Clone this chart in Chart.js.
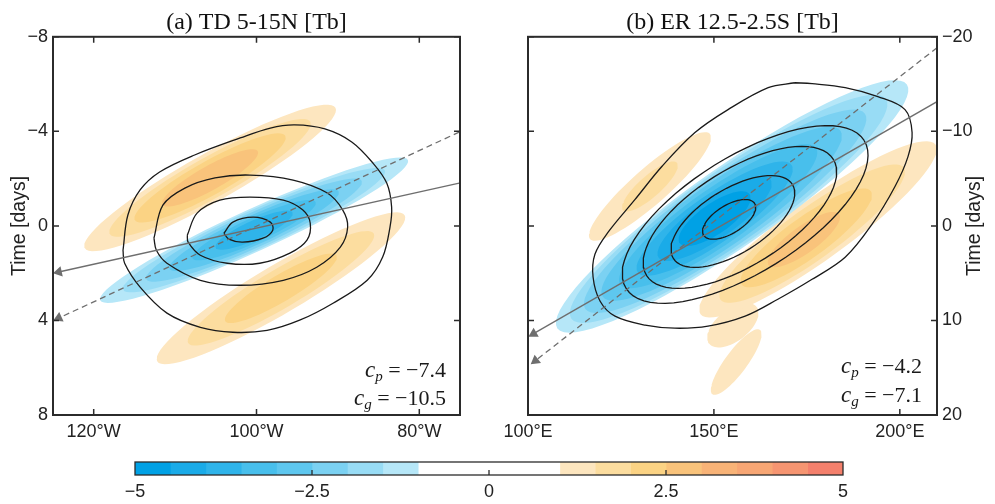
<!DOCTYPE html>
<html>
<head>
<meta charset="utf-8">
<script src="https://cdn.jsdelivr.net/npm/chart.js@4.4.1/dist/chart.umd.min.js"></script>
<style>
  body { margin: 0; background: #fff; width: 995px; height: 504px; position: relative; overflow: hidden; }
  canvas { position: absolute; }
</style>
</head>
<body>
<canvas id="chartA" width="495" height="440" style="left:0;top:0"></canvas>
<canvas id="chartB" width="500" height="440" style="left:495px;top:0"></canvas>
<canvas id="colorbar" width="995" height="59" style="left:0;top:445px"></canvas>
<script>
// colour scale (bin edges and colours)
const cbEdges = [-5, -4.5, -4, -3.5, -3, -2.5, -2, -1.5, -1, 1, 1.5, 2, 2.5, 3, 3.5, 4, 4.5, 5];
const cbColors = ['#00a1e5', '#1aabe8', '#2fb4ea', '#48bfec', '#5ec7ef', '#7bd1f2', '#98dcf5', '#b6e7f8', '#ffffff',
  '#fde6bf', '#fcdd9f', '#fbd384', '#f9c37b', '#f8b377', '#f7a674', '#f69571', '#f4806c'];
const cbTicks = [-5, -2.5, 0, 2.5, 5];

// panel (a) TD 5-15N
const tdTitle = '(a) TD 5-15N [Tb]';
const tdLonTicks = [-120, -100, -80];
const tdDayTicks = [-8, -4, 0, 4, 8];
const tdSpeeds = ['\u22127.4', '\u221210.5'];
// shaded Tb anomalies: centre, long and short half-axes (lon, day), contour levels
const tdBlobs = [
  { lon: -105.7, day: -2.03, u: [15.4, -2.97], v: [1.44, 0.89], levels: [1, 1.5, 2, 2.5], lens: [1, 0.8, 0.6, 0.38], wids: [1, 0.85, 0.7, 0.5] },
  { lon: -97.0, day: 2.64, u: [15.2, -3.09], v: [1.5, 0.88], levels: [1, 1.5, 2], lens: [1, 0.75, 0.45], wids: [1, 0.8, 0.55] },
  { lon: -100.3, day: 0.18, u: [18.9, -2.97], v: [1.07, 0.81], levels: [-1, -1.5, -2, -2.5, -3, -3.5], lens: [1, 0.85, 0.7, 0.55, 0.4, 0.25], wids: [1, 0.92, 0.82, 0.7, 0.58, 0.45] }
];
// black contours [lon, day]
const tdRing1 = [[-104.0, 0.31], [-102.9, -0.16], [-100.4, -0.37], [-98.3, -0.16], [-98.0, 0.18], [-99.2, 0.52], [-101.7, 0.69], [-103.4, 0.56], [-104.0, 0.31]];
const tdRing2 = [[-108.5, 0.39], [-107.3, -0.54], [-104.5, -1.09], [-100.8, -1.22], [-96.7, -1.09], [-94.3, -0.67], [-93.4, -0.12], [-93.8, 0.60], [-95.9, 1.15], [-99.6, 1.58], [-103.6, 1.58], [-106.9, 1.24], [-108.4, 0.69], [-108.5, 0.39]];
const tdRing3 = [[-112.6, 0.52], [-111.5, -0.88], [-108.8, -1.60], [-105.1, -2.03], [-100.8, -2.15], [-95.5, -1.94], [-91.3, -1.39], [-89.4, -0.67], [-88.8, 0.05], [-89.7, 0.90], [-92.6, 1.75], [-96.7, 2.30], [-102.0, 2.51], [-106.9, 2.30], [-111.0, 1.58], [-112.3, 1.03], [-112.6, 0.52]];
const tdRing4 = [[-116.4, 1.03], [-115.8, -0.46], [-114.3, -1.52], [-111.9, -2.28], [-107.6, -3.0], [-102.0, -3.72], [-98.3, -4.14], [-95.3, -4.27], [-91.6, -4.10], [-88.3, -3.55], [-85.7, -2.66], [-84.0, -1.81], [-83.4, -0.80], [-83.6, 0.05], [-84.5, 1.32], [-86.4, 2.30], [-90.6, 3.27], [-94.7, 3.99], [-98.7, 4.42], [-102.9, 4.50], [-106.9, 4.29], [-111.0, 3.69], [-114.3, 2.59], [-116.2, 1.58], [-116.4, 1.03]];
const tdPhase = [[-75.1, -1.81], [-124.3, 1.95]];
const tdGroup = [[-75.1, -3.97], [-124.3, 3.9]];

// panel (b) ER 12.5-2.5S
const erTitle = '(b) ER 12.5-2.5S [Tb]';
const erLonTicks = [100, 150, 200];
const erDayTicks = [-20, -10, 0, 10, 20];
const erSpeeds = ['\u22124.2', '\u22127.1'];
const erBlobs = [
  { lon: 132.8, day: -4.17, u: [16.1, -5.57], v: [3.2, 1.42], levels: [1, 1.5], lens: [1, 0.45], wids: [1, 0.6] },
  { lon: 155.1, day: 10.5, u: [6.46, -1.90], v: [2.4, 1.4], levels: [1], lens: [1], wids: [1] },
  { lon: 156.0, day: 14.4, u: [6.4, -3.4], v: [2.37, 0.70], levels: [1], lens: [1], wids: [1] },
  { lon: 178.0, day: 0.37, u: [31.6, -8.97], v: [4.73, 2.56], levels: [1, 1.5, 2, 2.5], lens: [1, 0.78, 0.55, 0.3], wids: [1, 0.85, 0.68, 0.45], shifts: [0, -0.05, -0.1, -0.12] },
  { lon: 154.9, day: -2.06, u: [47.0, -12.9], v: [6.18, 3.46], levels: [-1, -1.5, -2, -2.5, -3, -3.5, -4, -4.5], lens: [1, 0.9, 0.8, 0.68, 0.56, 0.44, 0.32, 0.2], wids: [1, 0.95, 0.88, 0.8, 0.7, 0.6, 0.5, 0.38], shifts: [0, -0.02, -0.04, -0.06, -0.08, -0.1, -0.1, -0.1] }
];
const erRing1 = { lon: 154.1, day: -0.69, u: [6.86, -1.68], v: [1.99, 1.26] };
const erRing2 = { lon: 155.1, day: -0.47, u: [16.0, -3.92], v: [4.57, 2.87] };
const erRing3 = { lon: 157.0, day: -0.90, u: [25.1, -6.15], v: [6.84, 4.31] };
const erRing4 = { lon: 158.4, day: -1.21, u: [32.0, -7.83], v: [8.27, 5.2] };
const erRing5 = [[171.8, -15.14], [164.6, -14.62], [153.8, -12.30], [144.9, -9.87], [136.0, -6.28], [128.8, -2.80], [121.5, 0.69], [118.0, 3.0], [117.5, 5.4], [119.4, 7.97], [123.4, 9.55], [131.5, 10.5], [139.5, 10.82], [148.4, 10.61], [158.4, 9.55], [167.2, 7.76], [176.4, 5.65], [185.3, 3.32], [192.5, -0.16], [198.7, -4.17], [202.2, -7.33], [203.3, -9.87], [201.4, -12.30], [194.1, -13.67], [185.3, -14.62], [176.4, -15.04], [171.8, -15.14]];
const erPhase = [[210, -13.14], [101.5, 11.4]];
const erGroup = [[210, -18.84], [102, 14.25]];

const ink = '#1a1a1a';
const tickFont = { family: 'Liberation Sans', size: 18 };

function shadeColor(level) {
  for (let i = 0; i < cbColors.length; i++) {
    if (level > 0 && cbEdges[i] === level) return cbColors[i];
    if (level < 0 && cbEdges[i + 1] === level) return cbColors[i];
  }
  return '#fff';
}

function ellipsePts(e, len, wid, shift) {
  const pts = [];
  for (let k = 0; k <= 72; k++) {
    const t = 2 * Math.PI * k / 72;
    const a = Math.cos(t) * len + shift, b = Math.sin(t) * wid;
    pts.push({ x: e.lon + a * e.u[0] + b * e.v[0], y: e.day + a * e.u[1] + b * e.v[1] });
  }
  return pts;
}

function arrowRotation(ctx) {
  const ch = ctx.chart, d = ctx.dataset.data;
  if (!ch.scales.x || !d[1]) return 0;
  const dx = ch.scales.x.getPixelForValue(d[1].x) - ch.scales.x.getPixelForValue(d[0].x);
  const dy = ch.scales.y.getPixelForValue(d[1].y) - ch.scales.y.getPixelForValue(d[0].y);
  return Math.atan2(dx, -dy) * 180 / Math.PI;
}

function buildDatasets(blobs, rings, arrows) {
  const sets = [];
  blobs.forEach(b => {
    b.levels.forEach((lv, i) => {
      sets.push({
        data: ellipsePts(b, b.lens[i], b.wids[i], b.shifts ? b.shifts[i] : 0),
        showLine: true, fill: 'shape', backgroundColor: shadeColor(lv),
        borderWidth: 0, pointRadius: 0, tension: 0
      });
    });
  });
  rings.forEach(r => {
    const pts = Array.isArray(r) ? r.map(p => ({ x: p[0], y: p[1] })) : ellipsePts(r, 1, 1, 0);
    sets.push({
      data: pts, showLine: true, fill: false, borderColor: ink, borderWidth: 1.3,
      pointRadius: 0, tension: Array.isArray(r) ? 0.35 : 0
    });
  });
  arrows.forEach((a, i) => {
    sets.push({
      data: a.map(p => ({ x: p[0], y: p[1] })), showLine: true, fill: false,
      borderColor: '#6e6e6e', borderWidth: 1.3, borderDash: i === 1 ? [6, 4] : [],
      pointRadius: [0, 6], pointStyle: 'triangle', pointRotation: arrowRotation,
      pointBackgroundColor: '#6e6e6e', pointBorderWidth: 0
    });
  });
  // first dataset is drawn on top, so reverse
  return sets.reverse();
}

function drawSpeed(ctx, right, base, sub, val) {
  const main = '22px "Liberation Serif"', ital = 'italic 23px "Liberation Serif"', small = 'italic 15px "Liberation Serif"';
  const rest = ' = ' + val;
  ctx.font = main; const w3 = ctx.measureText(rest).width;
  ctx.font = small; const w2 = ctx.measureText(sub).width;
  ctx.font = ital; const w1 = ctx.measureText('c').width;
  let x = right - w1 - w2 - w3;
  ctx.fillStyle = ink; ctx.textAlign = 'left'; ctx.textBaseline = 'alphabetic';
  ctx.fillText('c', x, base); x += w1;
  ctx.font = small; ctx.fillText(sub, x, base + 4); x += w2;
  ctx.font = main; ctx.fillText(rest, x, base);
}

const framePlugin = {
  id: 'frame',
  afterDraw(chart, args, opts) {
    const { ctx, chartArea: a, scales: { x, y } } = chart;
    ctx.save();
    ctx.strokeStyle = '#2b2b2b';
    ctx.lineWidth = 1.5;
    ctx.beginPath();
    x.ticks.forEach(t => {
      const px = x.getPixelForValue(t.value);
      ctx.moveTo(px, a.bottom); ctx.lineTo(px, a.bottom - 6);
      ctx.moveTo(px, a.top); ctx.lineTo(px, a.top + 6);
    });
    y.ticks.forEach(t => {
      const py = y.getPixelForValue(t.value);
      ctx.moveTo(a.left, py); ctx.lineTo(a.left + 6, py);
      ctx.moveTo(a.right, py); ctx.lineTo(a.right - 6, py);
    });
    ctx.stroke();
    ctx.lineWidth = 2;
    ctx.strokeRect(a.left, a.top, a.right - a.left, a.bottom - a.top);
    // axis title
    ctx.save();
    ctx.translate(opts.titleX, (a.top + a.bottom) / 2);
    ctx.rotate(-Math.PI / 2);
    ctx.font = '19.5px "Liberation Sans"';
    ctx.fillStyle = '#222'; ctx.textAlign = 'center'; ctx.textBaseline = 'middle';
    ctx.fillText('Time [days]', 0, 0);
    ctx.restore();
    drawSpeed(ctx, opts.speedRight, opts.speedBase[0], 'p', opts.speeds[0]);
    drawSpeed(ctx, opts.speedRight, opts.speedBase[1], 'g', opts.speeds[1]);
    ctx.restore();
  }
};

function makePanel(id, o) {
  return new Chart(document.getElementById(id), {
    type: 'scatter',
    data: { datasets: buildDatasets(o.blobs, o.rings, o.arrows) },
    options: {
      responsive: false,
      animation: false,
      events: [],
      layout: { padding: o.padding },
      plugins: {
        legend: { display: false },
        tooltip: { enabled: false },
        title: {
          display: true, text: o.title, fullSize: false, color: '#111',
          font: { family: 'Liberation Serif', size: 24, weight: 'normal', lineHeight: 1.2 },
          padding: { top: 8, bottom: 0 }
        },
        frame: o.frame
      },
      scales: {
        x: {
          type: 'linear', min: o.xMin, max: o.xMax,
          grid: { display: false, drawTicks: false }, border: { display: false },
          afterBuildTicks: s => { s.ticks = o.xTicks.map(v => ({ value: v })); },
          ticks: { callback: o.xLabel, padding: 6, color: '#222', font: tickFont, maxRotation: 0 },
          afterFit: s => { s.height = 25; }
        },
        y: {
          type: 'linear', position: o.yPos, reverse: true, min: o.yMin, max: o.yMax,
          grid: { display: false, drawTicks: false }, border: { display: false },
          afterBuildTicks: s => { s.ticks = o.yTicks.map(v => ({ value: v })); },
          ticks: { callback: v => v < 0 ? '\u2212' + Math.abs(v) : String(v), padding: 5, color: '#222', font: tickFont },
          afterFit: s => { s.width = o.yWidth; }
        }
      }
    },
    plugins: [framePlugin]
  });
}

makePanel('chartA', {
  title: tdTitle, blobs: tdBlobs, rings: [tdRing4, tdRing3, tdRing2, tdRing1], arrows: [tdPhase, tdGroup],
  xMin: -125, xMax: -75, xTicks: tdLonTicks, xLabel: v => Math.abs(v) + '\u00B0W',
  yMin: -8, yMax: 8, yTicks: tdDayTicks, yPos: 'left', yWidth: 53,
  padding: { left: 0, right: 35, top: 0, bottom: 0 },
  frame: { titleX: 20, speedRight: 446, speedBase: [377, 405], speeds: tdSpeeds }
});

makePanel('chartB', {
  title: erTitle, blobs: erBlobs, rings: [erRing5, erRing4, erRing3, erRing2, erRing1], arrows: [erPhase, erGroup],
  xMin: 100, xMax: 210, xTicks: erLonTicks, xLabel: v => v + '\u00B0E',
  yMin: -20, yMax: 20, yTicks: erDayTicks, yPos: 'right', yWidth: 58,
  padding: { left: 33, right: 0, top: 0, bottom: 0 },
  frame: { titleX: 480, speedRight: 427, speedBase: [373, 402], speeds: erSpeeds }
});

// colour bar
const cbFrame = {
  id: 'cbFrame',
  afterDraw(chart) {
    const { ctx, chartArea: a, scales: { x } } = chart;
    ctx.save();
    ctx.strokeStyle = '#2b2b2b';
    ctx.lineWidth = 1.3;
    ctx.strokeRect(a.left, a.top, a.right - a.left, a.bottom - a.top);
    ctx.beginPath();
    cbTicks.slice(1, -1).forEach(v => {
      const px = x.getPixelForValue(v);
      ctx.moveTo(px, a.bottom); ctx.lineTo(px, a.bottom - 5);
    });
    ctx.stroke();
    ctx.restore();
  }
};

new Chart(document.getElementById('colorbar'), {
  type: 'bar',
  data: {
    labels: [''],
    datasets: cbColors.map((c, i) => ({
      data: [[cbEdges[i], cbEdges[i + 1]]], backgroundColor: c, borderWidth: 0,
      grouped: false, barPercentage: 1, categoryPercentage: 1
    }))
  },
  options: {
    indexAxis: 'y',
    responsive: false,
    animation: false,
    events: [],
    layout: { padding: { left: 135, right: 152, top: 17, bottom: 0 } },
    plugins: { legend: { display: false }, tooltip: { enabled: false } },
    scales: {
      x: {
        type: 'linear', min: -5, max: 5,
        grid: { display: false, drawTicks: false }, border: { display: false },
        afterBuildTicks: s => { s.ticks = cbTicks.map(v => ({ value: v })); },
        ticks: { callback: v => v < 0 ? '\u2212' + Math.abs(v) : String(v), padding: 6, color: '#222', font: tickFont, maxRotation: 0 },
        afterFit: s => { s.height = 29; }
      },
      y: { display: false }
    }
  },
  plugins: [cbFrame]
});
</script>
</body>
</html>
